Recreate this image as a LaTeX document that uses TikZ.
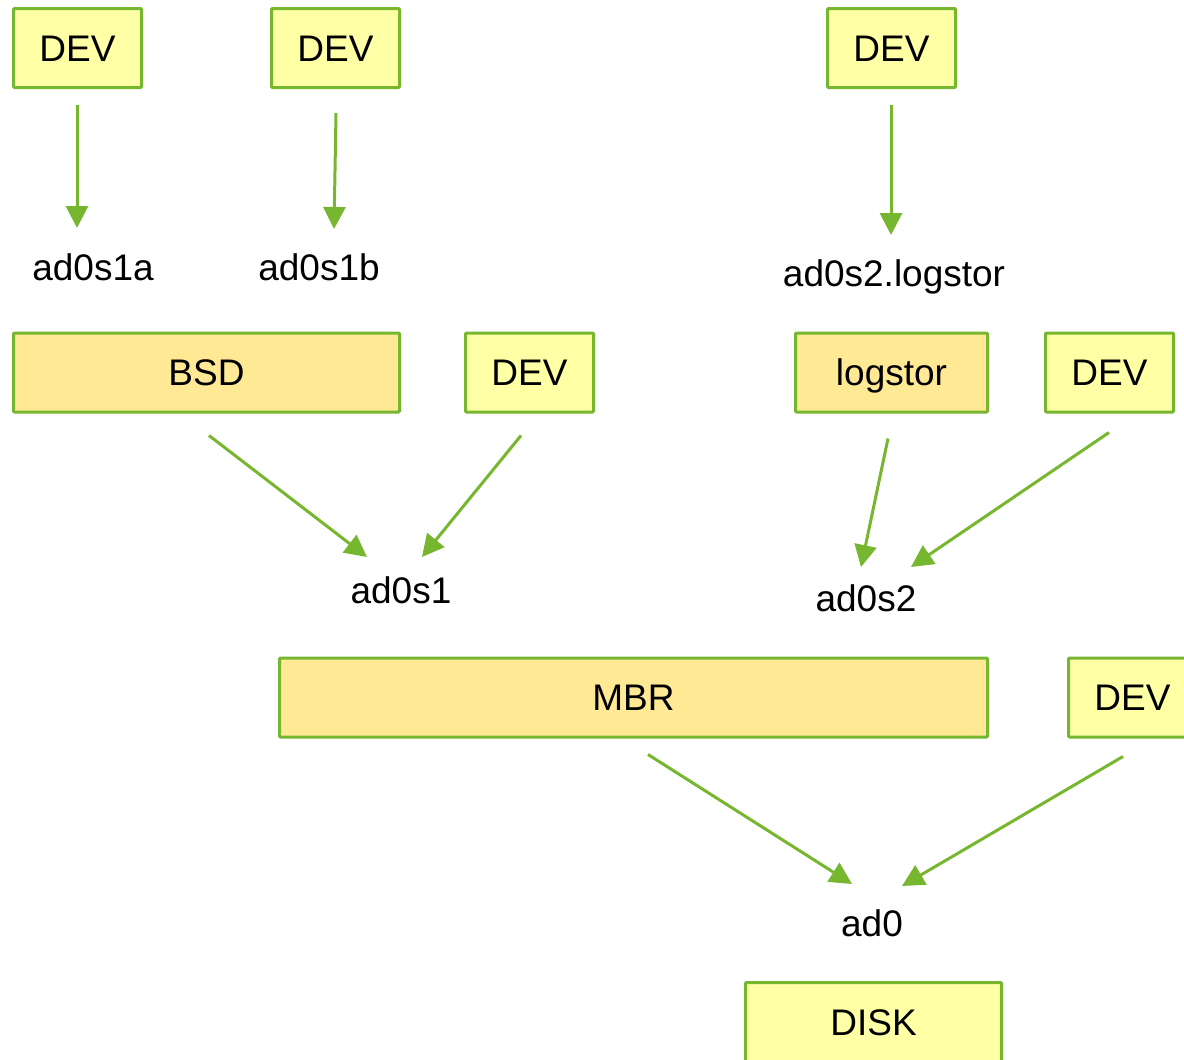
\documentclass[tikz,border=0pt]{standalone}
\usepackage{fontspec}
\setmainfont{Liberation Sans}
\usetikzlibrary{arrows.meta}

\definecolor{edgegreen}{HTML}{77B730}
\definecolor{devfill}{HTML}{FFFFA6}
\definecolor{modfill}{HTML}{FFE994}

\tikzset{
  lbl/.style={inner sep=0pt, text height=26.5pt, text depth=0pt,
    font=\fontsize{37}{44}\selectfont},
  box/.style={lbl, draw=edgegreen, line width=3pt, rounded corners=1pt,
    minimum height=79pt},
  devbox/.style={box, fill=devfill, minimum width=128pt},
  modbox/.style={box, fill=modfill},
  arr/.style={draw=edgegreen, line width=3pt,
    -{Triangle[length=22pt,width=22pt]}},
}

\begin{document}
\begin{tikzpicture}[x=1pt, y=-1pt]
\useasboundingbox (0,0) rectangle (1184,1060);
\clip (0,0) rectangle (1184,1060);

% device nodes and geom modules
\node[devbox] (dev1) at (77.5,48) {DEV};
\node[devbox] (dev2) at (335.5,48) {DEV};
\node[devbox] (dev3) at (891.5,48) {DEV};
\node[modbox, minimum width=386pt] (bsd) at (206.5,372.5) {BSD};
\node[devbox] (dev4) at (529.5,372.5) {DEV};
\node[modbox, minimum width=192pt] (logstor) at (891.5,372.5) {logstor};
\node[devbox] (dev5) at (1109.5,372.5) {DEV};
\node[modbox, minimum width=708pt] (mbr) at (633.5,697.5) {MBR};
\node[devbox] (dev6) at (1132.5,697.5) {DEV};
\node[devbox, minimum width=256pt] (disk) at (873.5,1022) {DISK};

% provider names
\node[lbl] (ad0s1a) at (93,267) {ad0s1a};
\node[lbl] (ad0s1b) at (319,267) {ad0s1b};
\node[lbl] (ad0s2log) at (894,273) {ad0s2.logstor};
\node[lbl] (ad0s1) at (401,590) {ad0s1};
\node[lbl] (ad0s2) at (866,598) {ad0s2};
\node[lbl] (ad0) at (872,923) {ad0};

% consumer -> provider arrows
\draw[arr] ([xshift=-0.5pt,yshift=-16pt]dev1.south) -- ([xshift=-16pt,yshift=39pt]ad0s1a.center);
\draw[arr] ([xshift=0.5pt,yshift=-24pt]dev2.south) -- ([xshift=15pt,yshift=38pt]ad0s1b.center);
\draw[arr] ([xshift=-0.5pt,yshift=-16pt]dev3.south) -- ([xshift=-3pt,yshift=38pt]ad0s2log.center);
\draw[arr] ([xshift=2.5pt,yshift=-22pt]bsd.south) -- ([xshift=-34pt,yshift=33pt]ad0s1.center);
\draw[arr] ([xshift=-8.5pt,yshift=-22pt]dev4.south) -- ([xshift=21pt,yshift=33pt]ad0s1.center);
\draw[arr] ([xshift=-3.5pt,yshift=-25pt]logstor.south) -- ([xshift=-5pt,yshift=31pt]ad0s2.center);
\draw[arr] ([xshift=-0.5pt,yshift=-19pt]dev5.south) -- ([xshift=45pt,yshift=31pt]ad0s2.center);
\draw[arr] ([xshift=14.5pt,yshift=-16pt]mbr.south) -- ([xshift=-20pt,yshift=39pt]ad0.center);
\draw[arr] ([xshift=-9.5pt,yshift=-18pt]dev6.south) -- ([xshift=30pt,yshift=37pt]ad0.center);
\end{tikzpicture}
\end{document}
